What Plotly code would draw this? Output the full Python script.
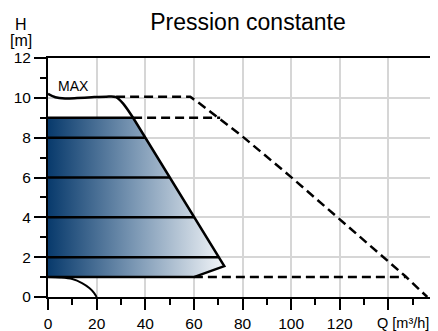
import plotly.graph_objects as go

# ---- data ----
# Gradient operating area (constant pressure)
area_q = [0, 35, 72.5, 60, 0, 0]
area_h = [9, 9, 1.55, 1.0, 1.0, 9]

# MAX curve (solid, smooth) down to the top of the operating area
max_q = [0, 3, 7, 12, 18, 24, 28, 31, 35]
max_h = [10.2, 10.03, 9.97, 9.99, 10.03, 10.06, 10.04, 9.7, 9.0]

# Right and bottom edge of the operating area (solid)
edge_q = [35, 72.5, 60, 0]
edge_h = [9.0, 1.55, 1.0, 1.0]

# Constant pressure levels (solid horizontal lines) and their end points
level_h = [9, 8, 6, 4, 2]
level_end_q = [35, 40, 50, 60, 70]

# Dashed extension of MAX curve
dash_max_q = [28, 58.5, 62, 80, 100, 120, 147, 156]
dash_max_h = [10.05, 10.05, 9.75, 8.06, 6.02, 3.9, 1.04, 0]

# Dashed level lines
dash9_q = [35, 70.8]
dash9_h = [9, 9]
dash1_q = [60, 147]
dash1_h = [1.0, 1.0]

# Minimum curve (bottom left)
min_q = [0, 5, 10, 14, 17, 19, 20]
min_h = [1.0, 0.98, 0.9, 0.7, 0.45, 0.2, 0]

x_ticks = [0, 20, 40, 60, 80, 100, 120, 140]
x_ticktext = ["0", "20", "40", "60", "80", "100", "120", ""]
x_minor = [10, 30, 50, 70, 90, 110, 130, 150]
y_ticks = [0, 2, 4, 6, 8, 10, 12]
y_minor = [1, 3, 5, 7, 9, 11]

FONT = "Liberation Sans, Arial, sans-serif"

# page offset (body margin) compensation: figure drawn at (8, 8)
OFF = 8
W, H = 438 - OFF, 331 - OFF
ml, mt = 48 - OFF, 58 - OFF
mr = W - (436.7 - OFF)
mb = H - (297.5 - OFF)
pw, ph = W - ml - mr, H - mt - mb


def px_to_paper(px, py):
    return ((px - OFF) - ml) / pw, 1 - ((py - OFF) - mt) / ph


fig = go.Figure()

fig.add_trace(go.Scatter(
    x=area_q, y=area_h, mode="lines", fill="toself",
    line=dict(width=0, color="rgba(0,0,0,0)"),
    fillgradient=dict(type="horizontal",
                      colorscale=[[0, "#083a6c"], [0.5, "#7d99b5"], [1, "#f2f5f8"]],
                      start=0, stop=72.5),
    hoverinfo="skip", showlegend=False))

# horizontal level lines
lx, ly = [], []
for h, qe in zip(level_h, level_end_q):
    lx += [0, qe, None]
    ly += [h, h, None]
fig.add_trace(go.Scatter(x=lx, y=ly, mode="lines",
                         line=dict(color="black", width=2.5), showlegend=False))

fig.add_trace(go.Scatter(x=max_q, y=max_h, mode="lines", line_shape="spline",
                         line=dict(color="black", width=2.5, smoothing=0.8), showlegend=False))
fig.add_trace(go.Scatter(x=edge_q, y=edge_h, mode="lines",
                         line=dict(color="black", width=2.5), showlegend=False))

for qx, hy in [(dash_max_q, dash_max_h), (dash9_q, dash9_h), (dash1_q, dash1_h)]:
    fig.add_trace(go.Scatter(x=qx, y=hy, mode="lines",
                             line=dict(color="black", width=2.5, dash="9px,5px"),
                             showlegend=False))

fig.add_trace(go.Scatter(x=min_q, y=min_h, mode="lines", line_shape="spline",
                         line=dict(color="black", width=2), showlegend=False))

fig.add_annotation(x=10.4, y=10.6, text="MAX", showarrow=False,
                   font=dict(family=FONT, size=14, color="black"))

qx_, qy_ = px_to_paper(376, 324)
fig.add_annotation(xref="paper", yref="paper", x=qx_, y=qy_, xanchor="left", yanchor="middle",
                   text="Q [m³/h]", showarrow=False, borderpad=0,
                   font=dict(family=FONT, size=14.5, color="black"))
hx_, hy_ = px_to_paper(21, 24)
fig.add_annotation(xref="paper", yref="paper", x=hx_, y=hy_, xanchor="center", yanchor="middle",
                   text="H", showarrow=False,
                   font=dict(family=FONT, size=16, color="black"))
mx_, my_ = px_to_paper(21.5, 40)
fig.add_annotation(xref="paper", yref="paper", x=mx_, y=my_, xanchor="center", yanchor="middle",
                   text="[m]", showarrow=False,
                   font=dict(family=FONT, size=16, color="black"))

fig.update_layout(
    width=W, height=H,
    margin=dict(l=ml, r=mr, t=mt, b=mb, autoexpand=False),
    paper_bgcolor="white", plot_bgcolor="white",
    title=dict(text="Pression constante", x=(248 - OFF) / W, xanchor="center",
               y=1 - (22 - OFF) / H, yanchor="middle",
               font=dict(family=FONT, size=23, color="black")),
    font=dict(family=FONT, size=15.5, color="black"),
    xaxis=dict(range=[0, 160], tickmode="array", tickvals=x_ticks, ticktext=x_ticktext,
               showgrid=True, gridcolor="#d6d6d6", gridwidth=1.5,
               showline=True, linecolor="black", linewidth=2, mirror=True,
               ticks="outside", ticklen=11, tickwidth=2, tickcolor="black",
               minor=dict(tickvals=x_minor, ticks="outside", ticklen=6, tickwidth=1.5,
                          tickcolor="black", showgrid=False),
               automargin=False, zeroline=False, fixedrange=True),
    yaxis=dict(range=[0, 12], tickmode="array", tickvals=y_ticks,
               showgrid=True, gridcolor="#d6d6d6", gridwidth=1.5,
               showline=True, linecolor="black", linewidth=2, mirror=True,
               ticks="outside", ticklen=12, tickwidth=1.5, tickcolor="black",
               minor=dict(tickvals=y_minor, ticks="outside", ticklen=6, tickwidth=1.5,
                          tickcolor="black", showgrid=False),
               automargin=False, zeroline=False, fixedrange=True),
)

fig.write_html("out.html")
